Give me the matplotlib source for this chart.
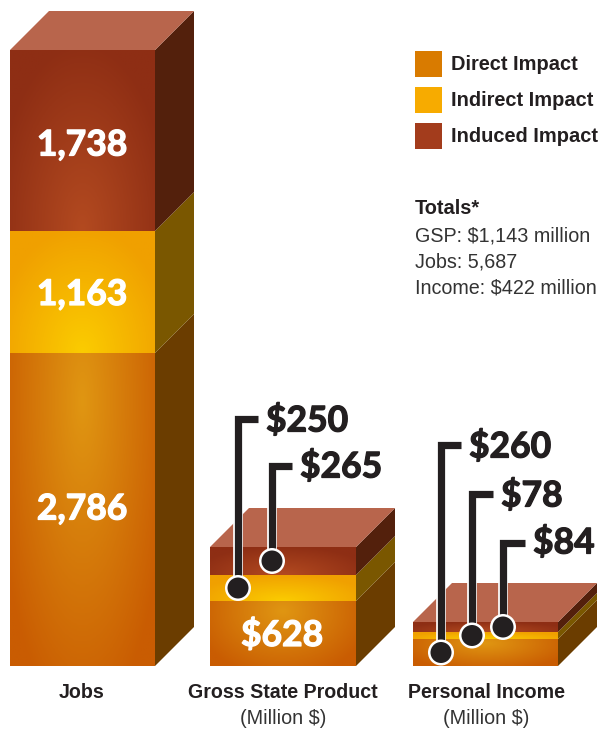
import numpy as np
import matplotlib
matplotlib.use('Agg')
import matplotlib.pyplot as plt
import matplotlib.patheffects as pe
from matplotlib.colors import LinearSegmentedColormap
from matplotlib.patches import Polygon, Rectangle, Circle

categories = ['Jobs', 'Gross State Product', 'Personal Income']
subtitles = ['', '(Million $)', '(Million $)']
series_names = ['Direct Impact', 'Indirect Impact', 'Induced Impact']

# printed numbers
jobs_labels = ['2,786', '1,163', '1,738']
gsp_labels = ['$628', '$250', '$265']
income_labels = ['$260', '$78', '$84']

# segment heights as drawn in the picture (the artwork is not quite to scale)
direct_drawn = [313, 65, 27]
indirect_drawn = [122, 26, 7]
induced_drawn = [181, 28, 10]

totals_title = 'Totals*'
totals_lines = ['GSP: $1,143 million', 'Jobs: 5,687', 'Income: $422 million']

# layout, in pixels of the 598x731 image
BASE = 666
DEPTH = 39
bar_left = [10, 210, 413]
bar_width = [145, 146, 145]

edge_cols = ['#c95c02', '#f0a000', '#8e2e14']
mid_cols = ['#e09612', '#fbcc00', '#b34a20']
side_cols = ['#6b3d00', '#7a5700', '#53200c']
top_col = '#b8654c'
swatch_cols = ['#d97b00', '#f7ab00', '#a33c1c']
ink = '#231f20'

BOLD = ['Lato', 'DejaVu Sans']
NARROW = ['Liberation Sans', 'DejaVu Sans']

fig = plt.figure(figsize=(5.98, 7.31), dpi=100)
ax = fig.add_axes([0, 0, 1, 1])
ax.set_xlim(0, 598)
ax.set_ylim(BASE - 731, BASE)
ax.axis('off')


def py(y):
    # picture row -> data value
    return BASE - y


def heavy(col):
    return [pe.withStroke(linewidth=0.9, foreground=col)]


yy, xx = np.mgrid[0:1:100j, 0:1:100j]
stacks = np.array([direct_drawn, indirect_drawn, induced_drawn]).T
centres = [0.85, 0.0, 0.0]  # where each gradient is brightest (0 = bottom)

for i in range(3):
    x0 = bar_left[i]
    w = bar_width[i]
    x1 = x0 + w
    bottom = 0
    for j in range(3):
        h = stacks[i][j]
        bar = ax.bar(x0, h, w, bottom=bottom, align='edge', color=edge_cols[j], zorder=2)[0]
        r = np.sqrt(((xx - 0.5) / 0.62) ** 2 + ((yy - centres[j]) / 1.05) ** 2)
        cmap = LinearSegmentedColormap.from_list('g', [mid_cols[j], edge_cols[j]])
        im = ax.imshow(r, extent=(x0, x1, bottom, bottom + h), origin='lower', cmap=cmap,
                       vmin=0, vmax=1, aspect='auto', zorder=2.1)
        im.set_clip_path(bar)
        ax.add_patch(Polygon([(x1, bottom), (x1 + DEPTH, bottom + DEPTH),
                              (x1 + DEPTH, bottom + h + DEPTH), (x1, bottom + h)],
                             closed=True, fc=side_cols[j], ec='none', zorder=2))
        bottom += h
    ax.add_patch(Polygon([(x0, bottom), (x1, bottom), (x1 + DEPTH, bottom + DEPTH),
                          (x0 + DEPTH, bottom + DEPTH)],
                         closed=True, fc=top_col, ec='none', zorder=2))

# numbers on the bars
cum = np.cumsum(stacks[0])
for j, offs in enumerate([0, -3, -5]):
    mid = cum[j] - stacks[0][j] / 2
    ax.text(bar_left[0] + 72, mid + offs, jobs_labels[j], color='white', family=BOLD, weight='bold',
            fontsize=25.5, ha='center', va='center', zorder=5, path_effects=heavy('white'))
ax.text(bar_left[1] + 72, stacks[1][0] / 2 - 2, gsp_labels[0], color='white', family=BOLD, weight='bold',
        fontsize=25.5, ha='center', va='center', zorder=5, path_effects=heavy('white'))

# leaders: (bar, segment, x offset, elbow row, arm end, text x, text row, label)
leaders = [
    (1, 1, 28, 419, 258, 266, 421, gsp_labels[1]),
    (1, 2, 62, 466, 292, 300, 467, gsp_labels[2]),
    (2, 0, 28, 445, 461, 469, 447, income_labels[0]),
    (2, 1, 59, 494, 493, 501, 496, income_labels[1]),
    (2, 2, 90, 543, 525, 533, 543, income_labels[2]),
]
for b, seg, dx, elbow, arm, tx, ty, lab in leaders:
    x = bar_left[b] + dx
    y = np.cumsum(stacks[b])[seg] - stacks[b][seg] / 2
    xs = [x, x, arm]
    ys = [y, py(elbow), py(elbow)]
    ax.plot(xs, ys, color='white', lw=7, solid_joinstyle='miter', solid_capstyle='butt', zorder=3)
    ax.plot(xs, ys, color=ink, lw=5.2, solid_joinstyle='miter', solid_capstyle='butt', zorder=3.1)
    ax.add_patch(Circle((x, y), 13, fc='white', ec='none', zorder=3.2))
    ax.add_patch(Circle((x, y), 10.5, fc=ink, ec='none', zorder=3.3))
    ax.text(tx, py(ty), lab, color=ink, family=BOLD, weight='bold', fontsize=25.5,
            ha='left', va='center', zorder=5, path_effects=heavy(ink))

# category labels
label_x = [82, 283, 486]
for i in range(3):
    ax.text(label_x[i], py(693), categories[i], color=ink, family=NARROW, weight='bold',
            fontsize=14.1, ha='center', va='center')
    if subtitles[i]:
        ax.text(label_x[i], py(719), subtitles[i], color='#333333', family=NARROW,
                fontsize=14.2, ha='center', va='center')

# legend
legend_rows = [64, 100, 136]
for j in range(3):
    ax.add_patch(Rectangle((415, py(legend_rows[j] + 13)), 27, 26, fc=swatch_cols[j], ec='none'))
    ax.text(451, py(legend_rows[j]), series_names[j], color=ink, family=NARROW, weight='bold',
            fontsize=14.4, ha='left', va='center')

# totals
ax.text(415, py(209), totals_title, color=ink, family=NARROW, weight='bold', fontsize=14.4,
        ha='left', va='center')
for k, row in enumerate([236, 262, 288]):
    ax.text(415, py(row), totals_lines[k], color='#333333', family=NARROW, fontsize=14.2,
            ha='left', va='center')

fig.savefig('out.png', dpi=100, facecolor='white')
plt.close(fig)
